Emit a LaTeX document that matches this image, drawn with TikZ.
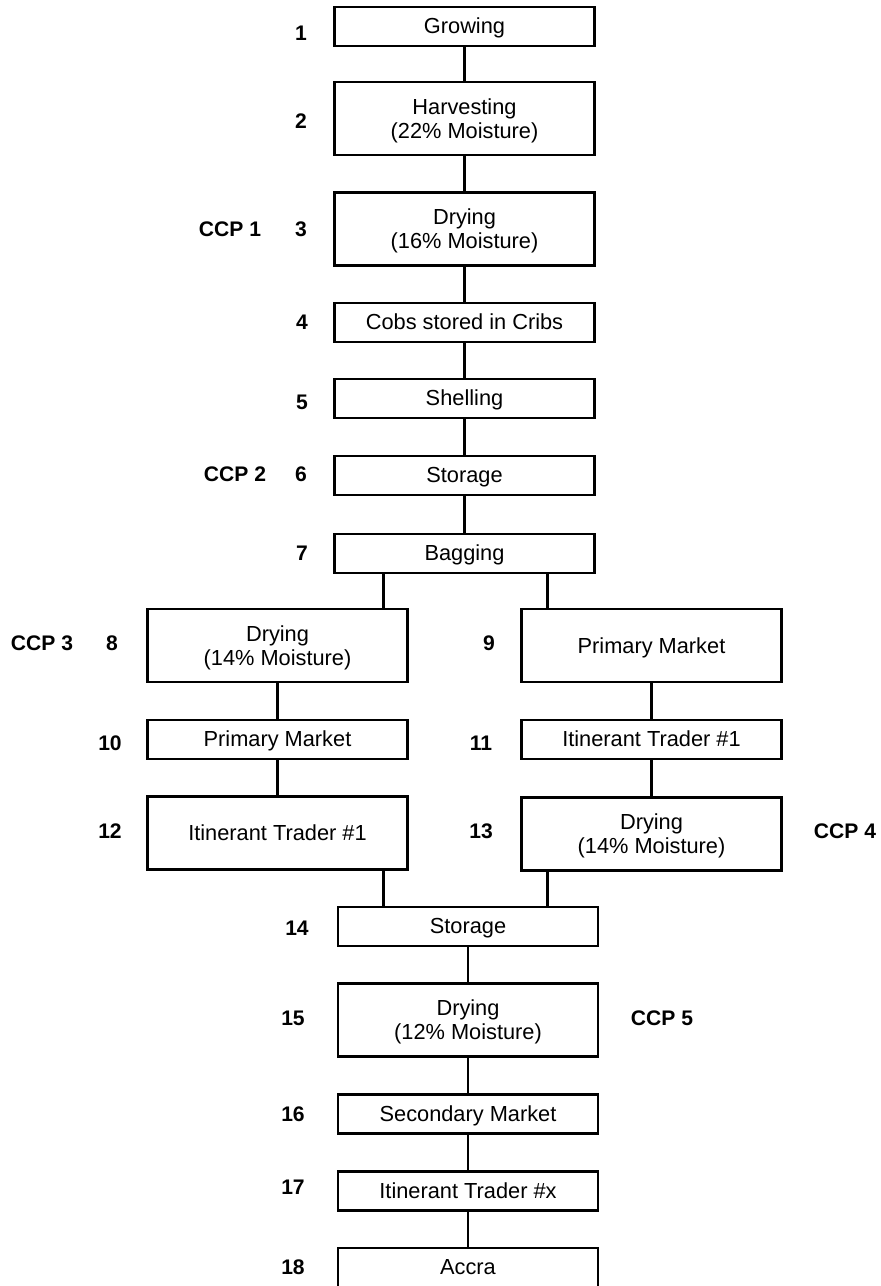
\documentclass[tikz,border=0pt]{standalone}
\usepackage{fontspec}
\setmainfont{Liberation Sans}
\begin{document}
\begin{tikzpicture}[x=0.02cm,y=-0.02cm,line width=1.5pt,
    font=\fontsize{12.4}{13.7}\selectfont,
    frame/.style={draw,minimum width=5.2cm,inner sep=0pt},
    box/.style={frame,minimum height=0.78cm,text height=0.8em,text depth=0pt},
    tall/.style={frame,minimum height=1.46cm,align=center,text depth=0pt},
    num/.style={font=\fontsize{12}{14}\selectfont\bfseries}]
  \useasboundingbox (0,0) rectangle (880,1286);
  % main column
  \node (growing)  at (464.5,26.5)  [box]  {Growing};
  \node (harvest)  at (464.5,118.5) [tall] {Harvesting\\(22\% Moisture)};
  \node (dry16)    at (464.5,229)   [tall] {Drying\\(16\% Moisture)};
  \node (cribs)    at (464.5,322.5) [box]  {Cobs stored in Cribs};
  \node (shelling) at (464.5,398.5) [box]  {Shelling};
  \node (store1)   at (464.5,475.5) [box]  {Storage};
  \node (bagging)  at (464.5,553.5) [box]  {Bagging};
  % two branches
  \node (dry14a)   at (277.5,645.5) [tall] {Drying\\(14\% Moisture)};
  \node (primb)    at (651.5,645.5) [tall] {Primary Market};
  \node (prima)    at (277.5,739.5) [box]  {Primary Market};
  \node (tradeb)   at (651.5,739.5) [box]  {Itinerant Trader \#1};
  \node (tradea)   at (277.5,833)   [tall] {Itinerant Trader \#1};
  \node (dry14b)   at (651.5,834)   [tall] {Drying\\(14\% Moisture)};
  % joined again
  \node (store2)   at (468,926.5)   [box]  {Storage};
  \node (dry12)    at (468,1020)    [tall] {Drying\\(12\% Moisture)};
  \node (secmkt)   at (468,1114)    [box]  {Secondary Market};
  \node (tradex)   at (468,1191)    [box]  {Itinerant Trader \#x};
  \node (accra)    at (468,1267.5)  [box]  {Accra};

  % step numbers and CCP marks
  \node (n1)  at (301,33)   [num] {1};
  \node (n2)  at (301,121)  [num] {2};
  \node (n3)  at (301,229)  [num] {3};
  \node (n4)  at (302,322)  [num] {4};
  \node (n5)  at (302,402)  [num] {5};
  \node (n6)  at (301,474)  [num] {6};
  \node (n7)  at (302,553)  [num] {7};
  \node (n8)  at (112,643)  [num] {8};
  \node (n9)  at (489,643)  [num] {9};
  \node (n10) at (110,743)  [num] {10};
  \node (n11) at (481,743)  [num] {11};
  \node (n12) at (110,831)  [num] {12};
  \node (n13) at (481,831)  [num] {13};
  \node (n14) at (297,928)  [num] {14};
  \node (n15) at (293,1018) [num] {15};
  \node (n16) at (293,1114) [num] {16};
  \node (n17) at (293,1187) [num] {17};
  \node (n18) at (293,1267) [num] {18};
  \node (ccp1) at (230,229)  [num] {CCP 1};
  \node (ccp2) at (235,474)  [num] {CCP 2};
  \node (ccp3) at (42,643)   [num] {CCP 3};
  \node (ccp4) at (845,831)  [num] {CCP 4};
  \node (ccp5) at (662,1018) [num] {CCP 5};

  % connectors
  \draw (growing) -- (harvest) -- (dry16) -- (cribs) -- (shelling) -- (store1) -- (bagging);
  \draw (dry14a) -- (prima) -- (tradea);
  \draw (primb) -- (tradeb) -- (dry14b);
  \draw (store2) -- (dry12) -- (secmkt) -- (tradex) -- (accra);
  \coordinate (splitl) at ([xshift=-0.5cm]dry14a.north east);
  \coordinate (splitr) at ([xshift=0.54cm]primb.north west);
  \coordinate (joinl)  at ([xshift=-0.5cm]tradea.south east);
  \coordinate (joinr)  at ([xshift=0.54cm]dry14b.south west);
  \draw (splitl) -- (splitl |- bagging.south);
  \draw (splitr) -- (splitr |- bagging.south);
  \draw (joinl) -- (joinl |- store2.north);
  \draw (joinr) -- (joinr |- store2.north);
\end{tikzpicture}
\end{document}
